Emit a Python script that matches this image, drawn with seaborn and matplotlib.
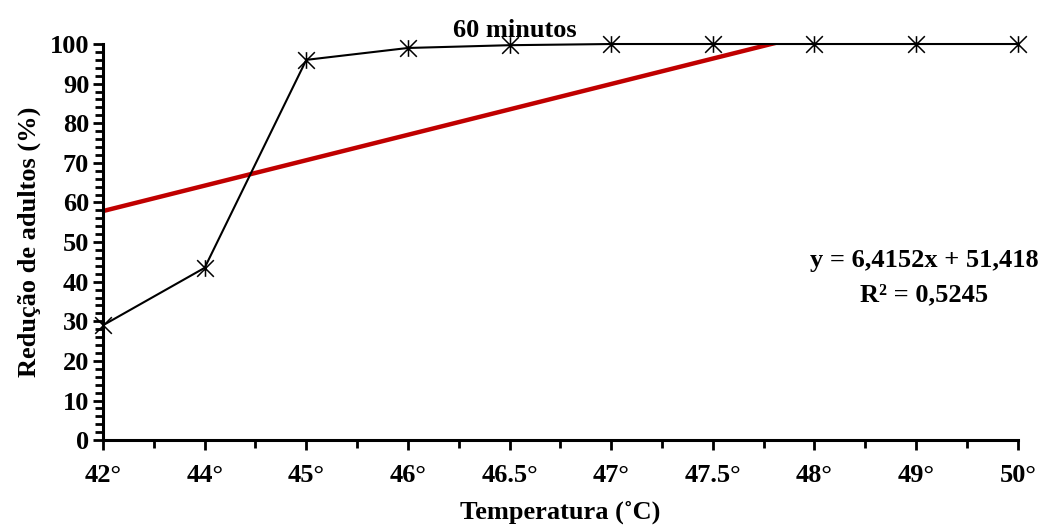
import matplotlib
matplotlib.use("Agg")
import matplotlib.pyplot as plt
from matplotlib.path import Path
from matplotlib.ticker import MultipleLocator, FixedLocator
import numpy as np
import pandas as pd
import seaborn as sns

# Data
temperatures = ["42°", "44°", "45°", "46°", "46.5°", "47°", "47.5°", "48°", "49°", "50°"]
reduction = [29, 43.5, 96, 99, 99.7, 100, 100, 100, 100, 100]

# Linear trend (x = 1..n, categorical order)
trend_slope = 6.4152
trend_intercept = 51.418
trend_r2 = 0.5245

sns.set_theme(style="white")
plt.rcParams["font.family"] = ["Liberation Serif", "DejaVu Serif"]
plt.rcParams["font.weight"] = "bold"
for key in ["text.color", "axes.labelcolor", "xtick.color", "ytick.color"]:
    plt.rcParams[key] = "black"

fig = plt.figure(figsize=(10.46, 5.29), dpi=100)
ax = fig.add_axes([0.0985, 0.168, 0.8745, 0.7488])

pos = np.arange(len(temperatures))
df = pd.DataFrame({"pos": pos, "reduction": reduction})

# Asterisk marker: vertical bar plus an X
star = Path(
    [(0, -1), (0, 1), (-1, -1), (1, 1), (-1, 1), (1, -1)],
    [Path.MOVETO, Path.LINETO, Path.MOVETO, Path.LINETO, Path.MOVETO, Path.LINETO],
)

trend_x = pos + 1
df_trend = pd.DataFrame({"pos": pos, "trend": trend_slope * trend_x + trend_intercept})
sns.lineplot(data=df_trend, x="pos", y="trend", ax=ax, color="#C00000", linewidth=3.2,
             zorder=2)

sns.lineplot(data=df, x="pos", y="reduction", ax=ax, color="black", linewidth=1.5,
             marker=star, markersize=12, markeredgewidth=1.1,
             markeredgecolor="black", markerfacecolor="none", zorder=3)
for ln in ax.lines[1:]:
    ln.set_clip_on(False)

ax.set_xlim(0, len(temperatures) - 1)
ax.set_ylim(0, 100)
ax.set_xticks(pos)
ax.set_xticklabels(temperatures)
ax.xaxis.set_minor_locator(FixedLocator(pos[:-1] + 0.5))
ax.yaxis.set_major_locator(MultipleLocator(10))
ax.yaxis.set_minor_locator(MultipleLocator(2))

for side in ["top", "right"]:
    ax.spines[side].set_visible(False)
for side in ["left", "bottom"]:
    ax.spines[side].set_color("black")
    ax.spines[side].set_linewidth(2.2)

ax.tick_params(axis="both", which="major", direction="out", length=7, width=2,
               color="black", labelcolor="black", labelsize=19, pad=3,
               bottom=True, left=True)
ax.tick_params(axis="both", which="minor", direction="out", length=6, width=2,
               color="black", bottom=True, left=True)
for lbl in ax.get_xticklabels() + ax.get_yticklabels():
    lbl.set_fontweight("bold")
ax.tick_params(axis="x", pad=10)

ax.set_xlabel("Temperatura (˚C)", fontsize=19, fontweight="bold", labelpad=10)
ax.set_ylabel("Redução de adultos (%)", fontsize=19, fontweight="bold", labelpad=6)
ax.set_title("60 minutos", fontsize=19, fontweight="bold", pad=5, x=0.45)

ax.text(0.898, 0.41, f"y = {trend_slope:.4f}x + {trend_intercept:.3f}".replace(".", ",")
        + f"\nR² = {trend_r2:.4f}".replace(".", ","),
        transform=ax.transAxes, ha="center", va="center", fontsize=19,
        fontweight="bold", linespacing=1.65)

fig.savefig("out.png", dpi=100)
